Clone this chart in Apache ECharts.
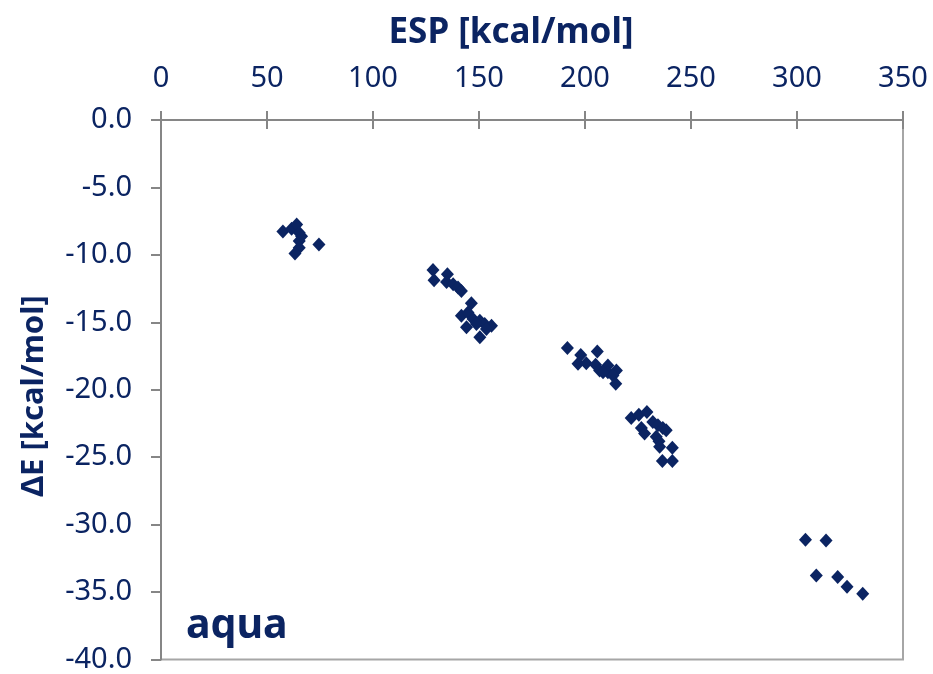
<!DOCTYPE html>
<html>
<head>
<meta charset="utf-8">
<title>ESP vs ΔE</title>
<script src="https://cdn.jsdelivr.net/npm/echarts@6/dist/echarts.min.js"></script>
<style>
  html, body { margin: 0; padding: 0; background: #ffffff; }
  #chart { width: 933px; height: 674px; }
</style>
</head>
<body>
<div id="chart"></div>
<script>
// Electrostatic potential (kcal/mol) for each complex
const espValues = [
  57.5, 61.6, 64.0, 65.2, 66.3, 65.2, 65.2, 63.2, 74.5,
  128.3, 128.8, 135.1, 134.7, 137.8, 140.1, 141.7, 146.4, 141.7, 144.8,
  144.1, 147.2, 150.4, 152.7, 155.9, 153.5, 150.4, 148.8,
  191.7, 198.0, 205.8, 196.7, 200.6, 205.0, 206.9, 210.8, 210.8, 214.8,
  213.2, 214.5, 208.5,
  221.8, 225.4, 229.2, 226.6, 228.1, 232.0, 234.4, 236.7, 238.3, 233.6,
  234.9, 235.2, 241.2, 236.5, 241.2,
  304.0, 313.7, 309.1, 319.2, 323.6, 331.0
];
// Interaction energy ΔE (kcal/mol), same order as espValues
const deltaE = [
  -8.27, -8.07, -7.75, -8.36, -8.61, -8.98, -9.47, -9.89, -9.23,
  -11.12, -11.88, -11.44, -12.01, -12.18, -12.42, -12.67, -13.58, -14.52, -14.27,
  -15.37, -14.76, -14.89, -15.13, -15.25, -15.50, -16.11, -15.13,
  -16.90, -17.42, -17.17, -18.08, -18.03, -18.15, -18.57, -18.21, -18.70, -18.57,
  -18.94, -19.56, -18.70,
  -22.09, -21.85, -21.65, -22.83, -23.25, -22.39, -22.64, -22.83, -23.00, -23.49,
  -23.82, -24.23, -24.30, -25.29, -25.29,
  -31.12, -31.17, -33.78, -33.88, -34.61, -35.13
];
// Axis ranges and tick steps
const xRange = [0, 350];
const xStep = 50;
const yRange = [-40, 0];
const yStep = 5;

const navy = '#0b2462';
const axisGrey = '#868686';
const fontFam = '"Noto Sans", "Open Sans", sans-serif';

const points = espValues.map((x, i) => [x, deltaE[i]]);

const chart = echarts.init(document.getElementById('chart'), null, { renderer: 'canvas' });

const baseX = {
  type: 'value',
  position: 'top',
  min: xRange[0],
  max: xRange[1],
  interval: xStep,
  splitLine: { show: false },
  axisLine: { show: true, onZero: false, lineStyle: { color: axisGrey, width: 2 } }
};

chart.setOption({
  animation: false,
  backgroundColor: '#ffffff',
  grid: {
    left: 161, top: 120, width: 742, height: 542,
    show: true, borderColor: '#a6a6a6', borderWidth: 2, backgroundColor: 'transparent'
  },
  xAxis: [
    Object.assign({}, baseX, {
      axisTick: { show: true, inside: false, length: 9, lineStyle: { color: axisGrey, width: 2 } },
      axisLabel: { color: navy, fontSize: 29, fontFamily: fontFam, margin: 27 }
    }),
    Object.assign({}, baseX, {
      axisTick: { show: true, inside: true, length: 9, lineStyle: { color: axisGrey, width: 2 } },
      axisLabel: { show: false }
    })
  ],
  yAxis: {
    type: 'value',
    min: yRange[0],
    max: yRange[1],
    interval: yStep,
    splitLine: { show: false },
    axisLine: { show: true, onZero: false, lineStyle: { color: axisGrey, width: 2 } },
    axisTick: { show: true, length: 10, lineStyle: { color: axisGrey, width: 2 } },
    axisLabel: {
      color: navy, fontSize: 29, fontFamily: fontFam, margin: 29,
      formatter: v => v.toFixed(1)
    }
  },
  series: [{
    type: 'scatter',
    xAxisIndex: 0,
    data: points,
    symbol: 'diamond',
    symbolSize: [13, 14],
    itemStyle: { color: navy, opacity: 1 }
  }],
  graphic: [
    {
      type: 'text', x: 511, y: 33,
      style: {
        text: 'ESP [kcal/mol]', fill: navy, font: 'bold 35px ' + fontFam,
        align: 'center', verticalAlign: 'middle'
      }
    },
    {
      type: 'text', x: 34, y: 396, rotation: Math.PI / 2,
      style: {
        text: 'ΔE [kcal/mol]', fill: navy, font: 'bold 31px ' + fontFam,
        align: 'center', verticalAlign: 'middle'
      }
    },
    {
      type: 'text', x: 186, y: 626,
      style: {
        text: 'aqua', fill: navy, font: 'bold 41px ' + fontFam,
        align: 'left', verticalAlign: 'middle'
      }
    }
  ]
});
</script>
</body>
</html>
